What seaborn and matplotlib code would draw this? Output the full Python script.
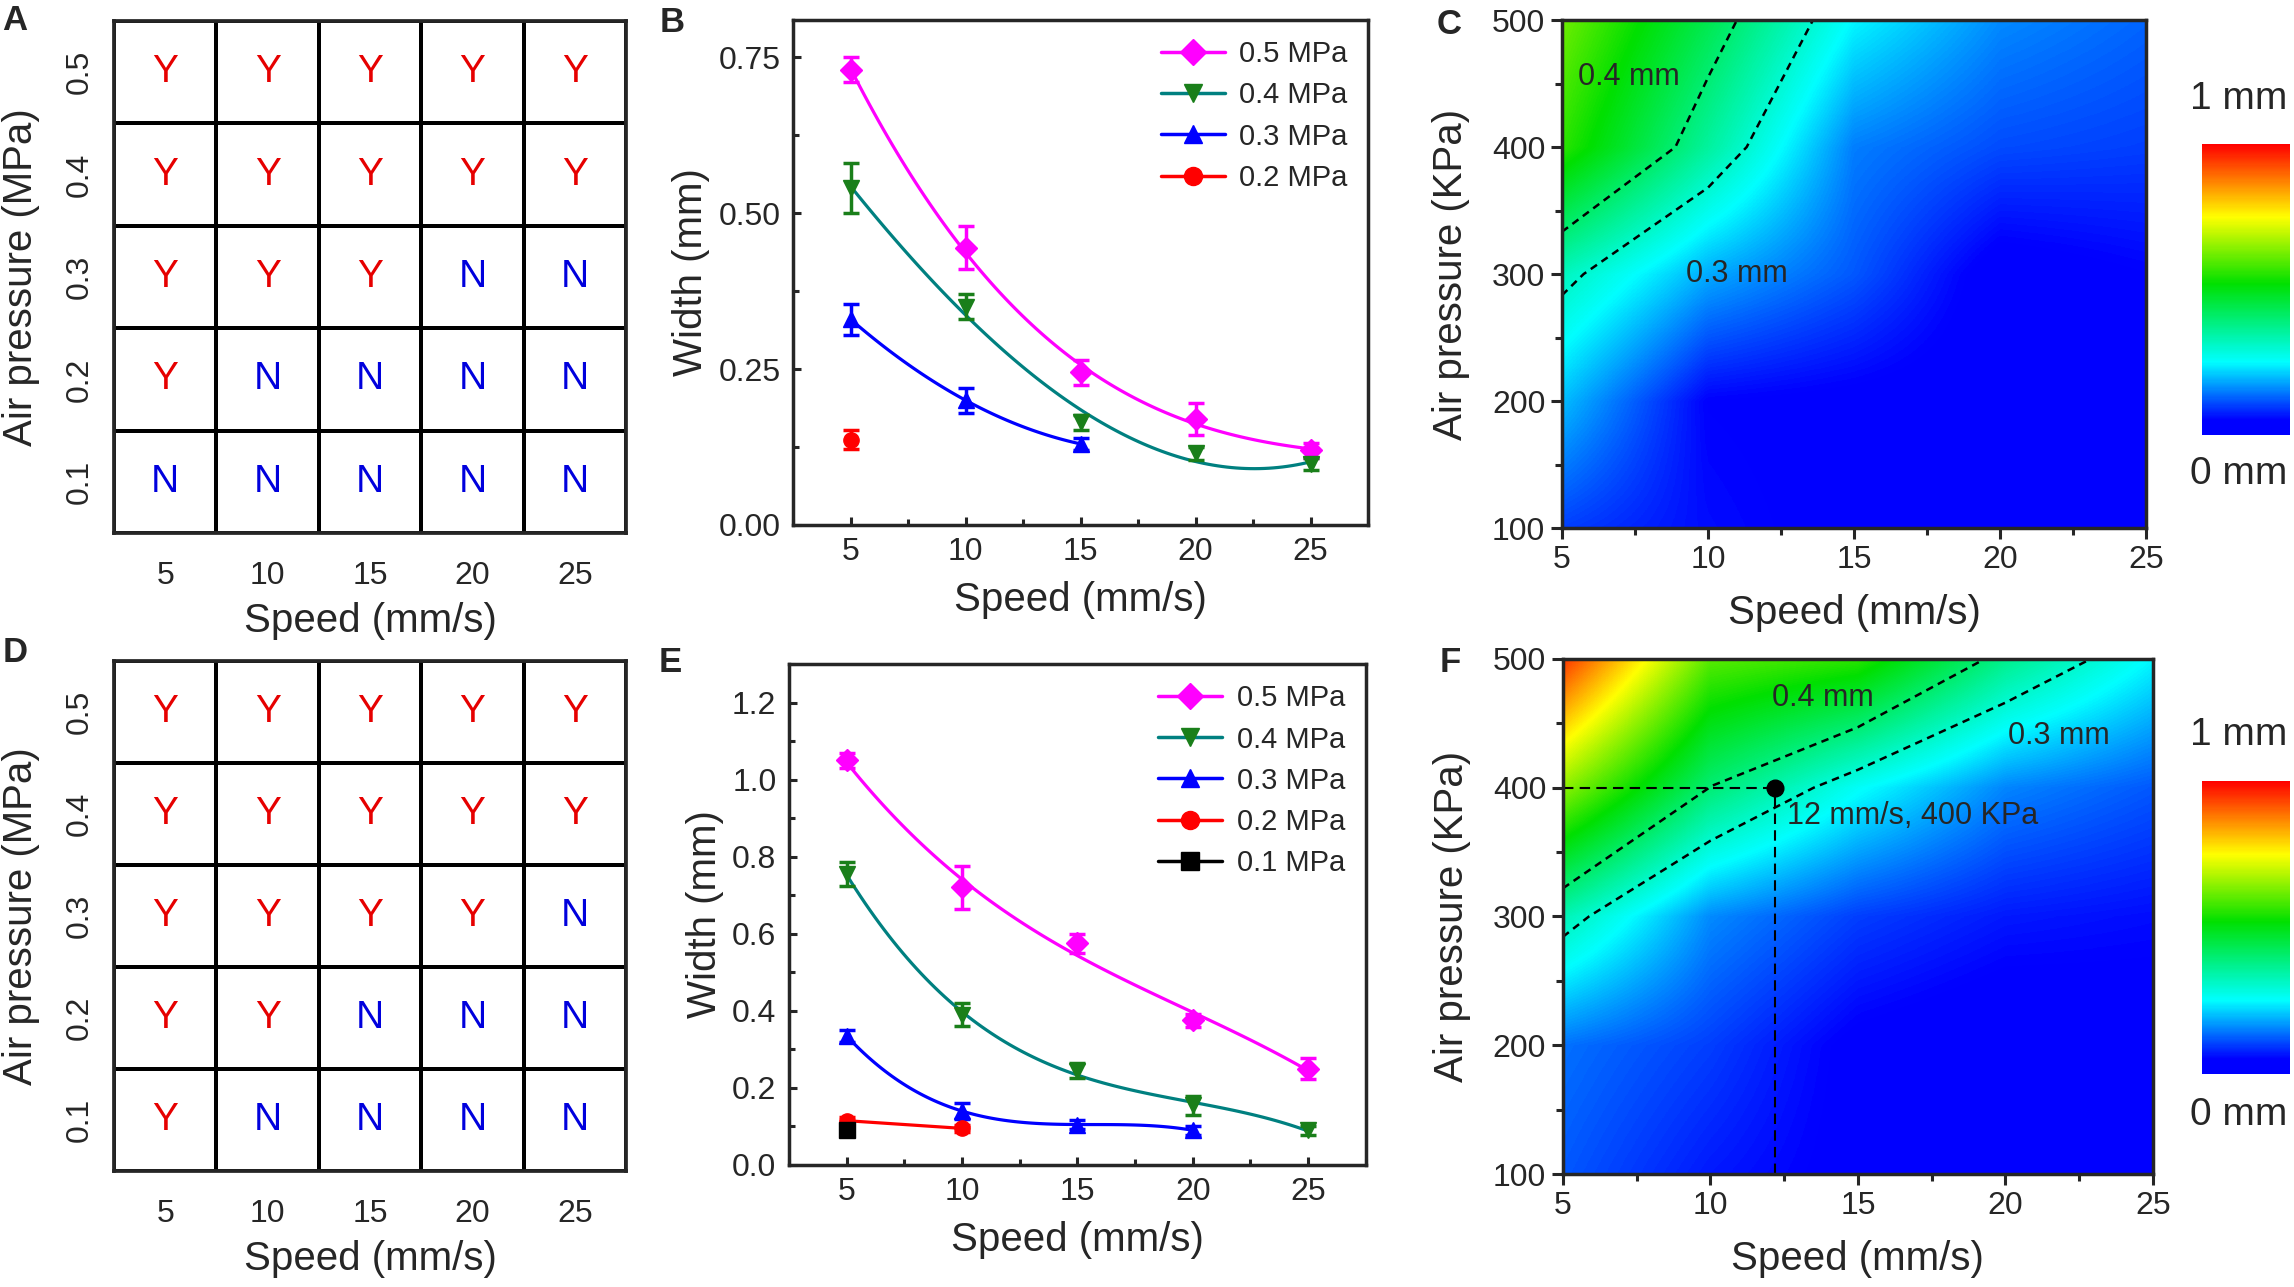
import numpy as np
import matplotlib
matplotlib.use('Agg')
import matplotlib.pyplot as plt
from matplotlib.colors import LinearSegmentedColormap, ListedColormap
from matplotlib.lines import Line2D
from matplotlib.ticker import MultipleLocator
import seaborn as sns

# ---- data -------------------------------------------------------------
speeds = [5, 10, 15, 20, 25]
grid_pressures = ['0.5', '0.4', '0.3', '0.2', '0.1']

# printable (Y) / not printable (N), rows 0.5 -> 0.1 MPa
ok_a = [['Y', 'Y', 'Y', 'Y', 'Y'],
        ['Y', 'Y', 'Y', 'Y', 'Y'],
        ['Y', 'Y', 'Y', 'N', 'N'],
        ['Y', 'N', 'N', 'N', 'N'],
        ['N', 'N', 'N', 'N', 'N']]
ok_d = [['Y', 'Y', 'Y', 'Y', 'Y'],
        ['Y', 'Y', 'Y', 'Y', 'Y'],
        ['Y', 'Y', 'Y', 'Y', 'N'],
        ['Y', 'Y', 'N', 'N', 'N'],
        ['Y', 'N', 'N', 'N', 'N']]

# line widths (mm), panel B
b_05 = [0.73, 0.445, 0.245, 0.17, 0.12]
b_05_err = [0.02, 0.035, 0.02, 0.025, 0.012]
b_04 = [0.54, 0.35, 0.165, 0.115, 0.098]
b_04_err = [0.04, 0.02, 0.012, 0.01, 0.01]
b_03 = [0.33, 0.20, 0.13]
b_03_err = [0.025, 0.02, 0.01]
b_02 = [0.137]
b_02_err = [0.015]

# line widths (mm), panel E
e_05 = [1.05, 0.72, 0.575, 0.375, 0.25]
e_05_err = [0.02, 0.055, 0.025, 0.018, 0.028]
e_04 = [0.755, 0.39, 0.245, 0.155, 0.09]
e_04_err = [0.03, 0.03, 0.02, 0.025, 0.012]
e_03 = [0.335, 0.14, 0.105, 0.09]
e_03_err = [0.015, 0.02, 0.012, 0.012]
e_02 = [0.115, 0.095]
e_02_err = [0.01, 0.01]
e_01 = [0.09]
e_01_err = [0.01]

# width maps (mm), rows 100 -> 500 KPa, columns 5 -> 25 mm/s
map_pressures = [100, 200, 300, 400, 500]
c_width = [[0.10, 0.06, 0.04, 0.04, 0.03],
           [0.20, 0.05, 0.04, 0.03, 0.04],
           [0.32, 0.185, 0.12, 0.03, 0.05],
           [0.56, 0.354, 0.15, 0.11, 0.10],
           [0.62, 0.438, 0.246, 0.16, 0.13]]
f_width = [[0.12, 0.07, 0.04, 0.03, 0.03],
           [0.14, 0.10, 0.04, 0.02, 0.03],
           [0.33, 0.16, 0.10, 0.07, 0.06],
           [0.65, 0.398, 0.258, 0.156, 0.12],
           [0.95, 0.60, 0.56, 0.374, 0.246]]

# ---- style ------------------------------------------------------------
sns.set_style('ticks')
plt.rcParams['font.family'] = ['Liberation Sans', 'DejaVu Sans']
plt.rcParams['axes.linewidth'] = 2.5

TICK = 23
LAB = 29
RED = '#e60000'
BLUE = '#0000dd'

jet = LinearSegmentedColormap.from_list(
    'w', [(0, '#0000ff'), (0.05, '#0000ff'), (0.25, '#00ffff'),
          (0.52, '#00e000'), (0.75, '#ffff00'), (1, '#ff0000')])

fig = plt.figure(figsize=(22.94, 12.87), dpi=100)


def grid_panel(rect, marks):
    ax = fig.add_axes(rect)
    lab = np.array(marks)
    sns.heatmap(np.zeros(lab.shape), annot=lab, fmt='', cbar=False,
                cmap=ListedColormap(['white']), linewidths=2.7,
                linecolor='black', annot_kws={'fontsize': 28},
                xticklabels=speeds, yticklabels=grid_pressures, ax=ax)
    for t in ax.texts:
        t.set_color(RED if t.get_text() == 'Y' else BLUE)
    for s in ax.spines.values():
        s.set_visible(True)
        s.set_linewidth(2.7)
    ax.tick_params(axis='x', length=0, labelsize=TICK, pad=20)
    ax.tick_params(axis='y', length=0, labelsize=TICK, pad=14)
    ax.set_yticklabels(grid_pressures, rotation=90, va='center')
    ax.set_xlabel('Speed (mm/s)', fontsize=LAB, labelpad=8)
    ax.set_ylabel('Air pressure (MPa)', fontsize=LAB, labelpad=18)
    return ax


def width_panel(rect, series, ytop, ystep, yminor):
    ax = fig.add_axes(rect)
    handles = []
    for label, y, err, lcol, mcol, mk in series:
        x = speeds[:len(y)]
        if len(y) > 1:
            sns.regplot(x=x, y=y, order=min(3, len(y) - 1), ci=None,
                        scatter=False, truncate=True, ax=ax,
                        line_kws={'color': lcol, 'lw': 2.3})
        ax.errorbar(x, y, yerr=err, fmt=mk, color=mcol, ms=11,
                    capsize=6, elinewidth=2.5, capthick=2.5, zorder=5)
        handles.append(Line2D([], [], color=lcol, lw=2.5, marker=mk,
                              mfc=mcol, mec=mcol, ms=13, label=label))
    ax.set_xlim(2.5, 27.5)
    ax.set_ylim(0, ytop)
    ax.set_xticks(speeds)
    ax.xaxis.set_minor_locator(MultipleLocator(2.5))
    ax.yaxis.set_major_locator(MultipleLocator(ystep))
    ax.yaxis.set_minor_locator(MultipleLocator(yminor))
    ax.tick_params(which='both', direction='in', top=False, right=False,
                   width=2.2, labelsize=TICK)
    ax.tick_params(which='major', length=6, pad=9)
    ax.tick_params(which='minor', length=4)
    ax.set_xlabel('Speed (mm/s)', fontsize=LAB, labelpad=10)
    ax.set_ylabel('Width (mm)', fontsize=LAB, labelpad=6)
    ax.legend(handles=handles, loc='upper right', frameon=False,
              fontsize=21, handlelength=2.2, labelspacing=0.45,
              borderaxespad=0.3, handletextpad=0.5)
    return ax


def map_panel(rect, cbar_rect, z, top_txt_y, bot_txt_y):
    ax = fig.add_axes(rect)
    z = np.array(z)
    # pixel centres sit on the measured speed / pressure grid
    img = ax.imshow(z, origin='lower', extent=[2.5, 27.5, 50, 550],
                    aspect='auto', interpolation='bilinear',
                    interpolation_stage='data', cmap=jet, vmin=0, vmax=1)
    ax.contour(speeds, map_pressures, z, levels=[0.3, 0.4], colors='k',
               linewidths=1.8, linestyles=[(0, (3, 2.2))])
    ax.set_xlim(5, 25)
    ax.set_ylim(100, 500)
    ax.set_xticks(speeds)
    ax.set_yticks(map_pressures)
    ax.xaxis.set_minor_locator(MultipleLocator(2.5))
    ax.yaxis.set_minor_locator(MultipleLocator(50))
    ax.tick_params(which='both', direction='out', width=2.2,
                   labelsize=TICK)
    ax.tick_params(which='major', length=8, pad=4)
    ax.tick_params(which='minor', length=5)
    ax.set_xlabel('Speed (mm/s)', fontsize=LAB, labelpad=14)
    ax.set_ylabel('Air pressure (KPa)', fontsize=LAB, labelpad=16)
    cax = fig.add_axes(cbar_rect)
    cb = fig.colorbar(img, cax=cax)
    cb.set_ticks([])
    cb.outline.set_visible(False)
    fig.text(0.976, top_txt_y, '1 mm', fontsize=28, ha='center',
             va='center')
    fig.text(0.976, bot_txt_y, '0 mm', fontsize=28, ha='center',
             va='center')
    return ax


# ---- panels -----------------------------------------------------------
grid_panel([0.0497, 0.5859, 0.2232, 0.3978], ok_a)
grid_panel([0.0497, 0.0901, 0.2232, 0.3963], ok_d)

width_panel([0.3457, 0.5921, 0.2507, 0.3924], [
    ('0.5 MPa', b_05, b_05_err, '#ff00ff', '#ff00ff', 'D'),
    ('0.4 MPa', b_04, b_04_err, '#008080', '#1a7f1a', 'v'),
    ('0.3 MPa', b_03, b_03_err, '#0000ff', '#0000ff', '^'),
    ('0.2 MPa', b_02, b_02_err, '#ff0000', '#ff0000', 'o'),
], 0.81, 0.25, 0.125)

width_panel([0.3439, 0.0948, 0.2515, 0.3893], [
    ('0.5 MPa', e_05, e_05_err, '#ff00ff', '#ff00ff', 'D'),
    ('0.4 MPa', e_04, e_04_err, '#008080', '#1a7f1a', 'v'),
    ('0.3 MPa', e_03, e_03_err, '#0000ff', '#0000ff', '^'),
    ('0.2 MPa', e_02, e_02_err, '#ff0000', '#ff0000', 'o'),
    ('0.1 MPa', e_01, e_01_err, '#000000', '#000000', 's'),
], 1.3, 0.2, 0.1)

ax_c = map_panel([0.6809, 0.5897, 0.2546, 0.3947],
                 [0.9599, 0.6620, 0.0384, 0.2261], c_width, 0.923, 0.632)
ax_c.text(7.3, 455, '0.4 mm', fontsize=22, ha='center', va='center')
ax_c.text(11.0, 300, '0.3 mm', fontsize=22, ha='center', va='center')

ax_f = map_panel([0.6813, 0.0878, 0.2572, 0.4002],
                 [0.9599, 0.1655, 0.0384, 0.2277], f_width, 0.429, 0.134)
ax_f.text(13.8, 470, '0.4 mm', fontsize=22, ha='center', va='center')
ax_f.text(21.8, 440, '0.3 mm', fontsize=22, ha='center', va='center')
ax_f.plot([5, 12.2], [400, 400], color='k', lw=1.5, ls=(0, (5, 3)))
ax_f.plot([12.2, 12.2], [100, 400], color='k', lw=1.5, ls=(0, (5, 3)))
ax_f.plot([12.2], [400], 'o', color='k', ms=12)
ax_f.text(12.6, 378, '12 mm/s, 400 KPa', fontsize=22, ha='left',
          va='center')

for lt, x, y in [('A', 0.001, 0.997), ('B', 0.2877, 0.995),
                 ('C', 0.6264, 0.994), ('D', 0.0013, 0.506),
                 ('E', 0.2873, 0.498), ('F', 0.6277, 0.498)]:
    fig.text(x, y, lt, fontsize=25, fontweight='bold', ha='left', va='top')

fig.savefig('out.png', dpi=100)
